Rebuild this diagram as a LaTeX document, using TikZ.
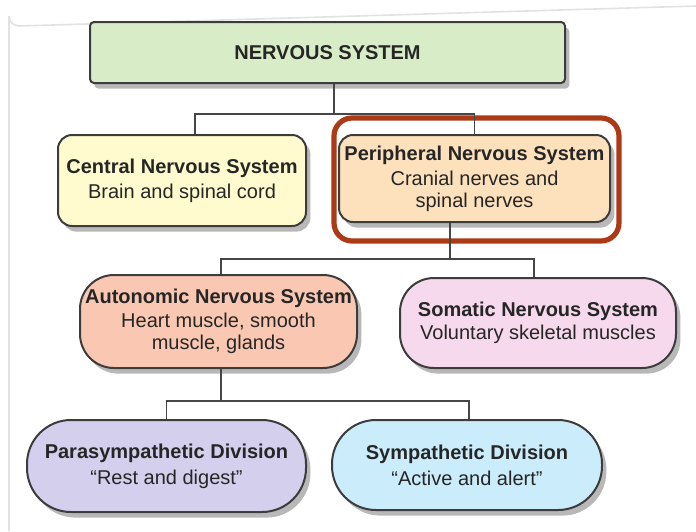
\documentclass[tikz,border=0pt]{standalone}
\usepackage{fontspec}
\setmainfont{Liberation Sans}
\usetikzlibrary{calc,shadows}
\definecolor{inkgrey}{RGB}{38,38,38}
\definecolor{wiregrey}{RGB}{70,70,70}
\definecolor{framegrey}{RGB}{226,226,226}
\definecolor{nsgreen}{RGB}{216,237,199}
\definecolor{cnsyellow}{RGB}{255,251,206}
\definecolor{pnspeach}{RGB}{253,225,188}
\definecolor{anssalmon}{RGB}{250,200,178}
\definecolor{snspink}{RGB}{246,217,236}
\definecolor{paralilac}{RGB}{211,207,237}
\definecolor{symblue}{RGB}{203,237,251}
\definecolor{marker}{RGB}{172,58,22}
\tikzset{
  unitbox/.style={draw=inkgrey!90,line width=1pt,inner sep=0pt,align=center,
    text=inkgrey,font=\fontsize{10}{11}\selectfont,
    drop shadow={shadow xshift=2.2pt,shadow yshift=-2.8pt,opacity=0.28,fill=black}},
  wire/.style={wiregrey,line width=0.7pt},
}

\begin{document}
\begin{tikzpicture}[x=0.5pt,y=-0.5pt]
  \useasboundingbox (0,0) rectangle (696,531);
  % faint page frame
  \draw[framegrey,line width=0.8pt]
    (9,531) -- (9,16) arc[start angle=180,end angle=90,radius=10] -- (696,6);

  % Top level
  \node[unitbox,fill=nsgreen,rounded corners=2pt,minimum width=237.5pt,
    minimum height=30.5pt] (ns) at (327.5,52.5) {\textbf{NERVOUS SYSTEM}};

  % Central and peripheral
  \node[unitbox,fill=cnsyellow,rounded corners=7pt,minimum width=124pt,
    minimum height=45.5pt] (cns) at (182,180.5)
    {\textbf{Central Nervous System}\\[1.5pt]Brain and spinal cord};
  \node[unitbox,fill=pnspeach,rounded corners=7pt,minimum width=135.5pt,
    minimum height=43.5pt] (pns) at (474.5,178.5)
    {\textbf{Peripheral Nervous System}\\[1.5pt]Cranial nerves and\\spinal nerves};
  \draw[marker,line width=2.6pt,rounded corners=9pt]
    (334,118) rectangle (619,241);

  % Autonomic and somatic
  \node[unitbox,fill=anssalmon,rounded corners=17pt,minimum width=138.5pt,
    minimum height=46.5pt] (ans) at (218.5,321.5)
    {\textbf{Autonomic Nervous System}\\[1pt]Heart muscle, smooth\\muscle, glands};
  \node[unitbox,fill=snspink,rounded corners=17pt,minimum width=138pt,
    minimum height=45pt] (sns) at (538,323)
    {\textbf{Somatic Nervous System}\\[0.5pt]Voluntary skeletal muscles};

  % Divisions
  \node[unitbox,fill=paralilac,rounded corners=22pt,minimum width=139.5pt,
    minimum height=46pt] (para) at (166.5,466)
    {\textbf{Parasympathetic Division}\\[2pt]``Rest and digest''};
  \node[unitbox,fill=symblue,rounded corners=22pt,minimum width=135pt,
    minimum height=45pt] (sym) at (467,465)
    {\textbf{Sympathetic Division}\\[2pt]``Active and alert''};

  % Connectors
  \coordinate (jtop) at ($(ns.south)+(6.5,30)$);
  \draw[wire] ($(ns.south)+(6.5,0)$) -- (jtop);
  \draw[wire] (jtop) -| ($(cns.north)+(13,0)$);
  \draw[wire] (jtop) -| (pns.north);

  \coordinate (jmid) at ($(pns.south)+(-24.5,36)$);
  \draw[wire] ($(pns.south)+(-24.5,0)$) -- (jmid);
  \draw[wire] (jmid) -| ($(ans.north)+(2.5,0)$);
  \draw[wire] (jmid) -| ($(sns.north)+(-4,0)$);

  \coordinate (jlow) at ($(ans.south)+(2.5,32)$);
  \draw[wire] ($(ans.south)+(2.5,0)$) -- (jlow);
  \draw[wire] (jlow) -| (para.north);
  \draw[wire] (jlow) -| ($(sym.north)+(2,0)$);
\end{tikzpicture}
\end{document}
